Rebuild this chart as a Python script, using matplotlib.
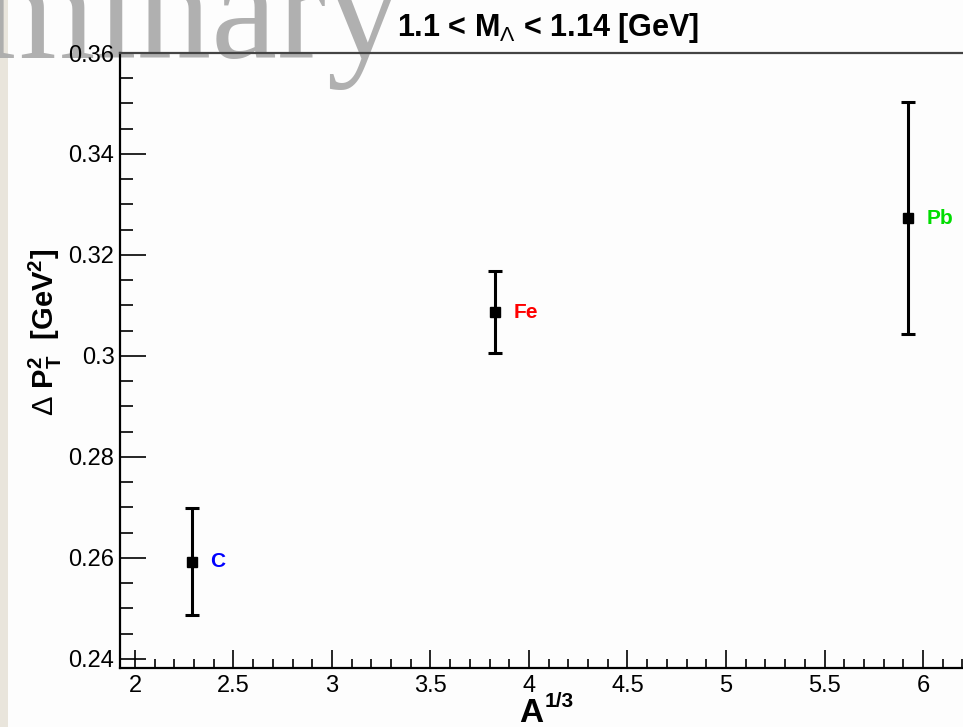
import matplotlib
matplotlib.use('Agg')
import matplotlib.pyplot as plt
from matplotlib.ticker import MultipleLocator
from matplotlib.patches import Rectangle

plt.rcParams['font.family'] = ['Liberation Sans', 'DejaVu Sans']
plt.rcParams['mathtext.fontset'] = 'custom'
plt.rcParams['mathtext.rm'] = 'Liberation Sans'
plt.rcParams['mathtext.bf'] = 'Liberation Sans:bold'

# data: A^(1/3) vs Delta pT^2
targets = ['C', 'Fe', 'Pb']
a_third = [2.289, 3.826, 5.925]
dpt2 = [0.2592, 0.3087, 0.3273]
dpt2_err = [0.0106, 0.0082, 0.0230]
label_colors = ['#0000ff', '#ff0000', '#00dd00']

W, H = 963, 727
fig = plt.figure(figsize=(W / 100, H / 100), dpi=100)
fig.patch.set_facecolor('#fdfdfd')
# beige strip on the far left (slide edge)
fig.patches.append(Rectangle((0, 0), 8 / W, 1, transform=fig.transFigure,
                             facecolor='#e9e5dc', edgecolor='none', zorder=0))

ax = fig.add_axes([120 / W, 1 - 668 / H, (W - 120) / W, (668 - 53) / H])
ax.set_facecolor('none')
ax.set_zorder(2)
ax.set_xlim(1.924, 6.203)
ax.set_ylim(0.2382, 0.36)

ax.errorbar(a_third, dpt2, yerr=dpt2_err, fmt='s', color='black', ms=7,
            elinewidth=2.2, capsize=5, capthick=2.2, zorder=3)
for x, y, t, c in zip(a_third, dpt2, targets, label_colors):
    ax.text(x + 0.095, y, t, color=c, fontsize=15, fontweight='bold',
            ha='left', va='center')

ax.spines['right'].set_visible(False)
for s in ['left', 'bottom']:
    ax.spines[s].set_linewidth(1.6)
ax.spines['top'].set_linewidth(1.6)
ax.spines['top'].set_color('#444444')

ax.xaxis.set_major_locator(MultipleLocator(0.5))
ax.xaxis.set_minor_locator(MultipleLocator(0.1))
ax.yaxis.set_major_locator(MultipleLocator(0.02))
ax.yaxis.set_minor_locator(MultipleLocator(0.005))
ax.xaxis.set_major_formatter(plt.FuncFormatter(lambda v, p: ('%g' % v)))
ax.yaxis.set_major_formatter(plt.FuncFormatter(lambda v, p: ('%g' % round(v, 3))))
ax.tick_params(axis='x', which='major', direction='in', length=13, width=1.2,
               labelsize=17, pad=5, top=False)
ax.tick_params(axis='x', which='minor', direction='in', length=6.5, width=1.2, top=False)
ax.tick_params(axis='y', which='major', direction='in', length=19, width=1.2,
               labelsize=17, pad=4, right=False)
ax.tick_params(axis='y', which='minor', direction='in', length=9.5, width=1.2, right=False)

fig.text(548 / W, 1 - 28 / H, r'1.1 < M$_{\Lambda}$ < 1.14 [GeV]', ha='center',
         va='center', fontsize=22, fontweight='bold')
# x label A^{1/3}, drawn as two pieces so it sits low like the reference
fig.text(519 / W, 1 - 722 / H, 'A', ha='left', va='baseline',
         fontsize=24, fontweight='bold')
fig.text(545 / W, 1 - 707 / H, '1/3', ha='left', va='baseline',
         fontsize=15, fontweight='bold')
fig.text(45 / W, 1 - 332 / H, r'$\Delta$ $\mathbf{P_T^2}$  $\mathbf{[GeV^2]}$',
         ha='center', va='center', rotation=90, fontsize=21, fontweight='bold')

# watermark, cut off by the left edge
fig.text(402 / W, 1 - 58 / H, 'Preliminary', ha='right', va='baseline',
         fontsize=107, family='Liberation Serif', color='#a8a8a8', alpha=0.9,
         zorder=1)

fig.savefig('out.png', dpi=100, facecolor=fig.get_facecolor())
